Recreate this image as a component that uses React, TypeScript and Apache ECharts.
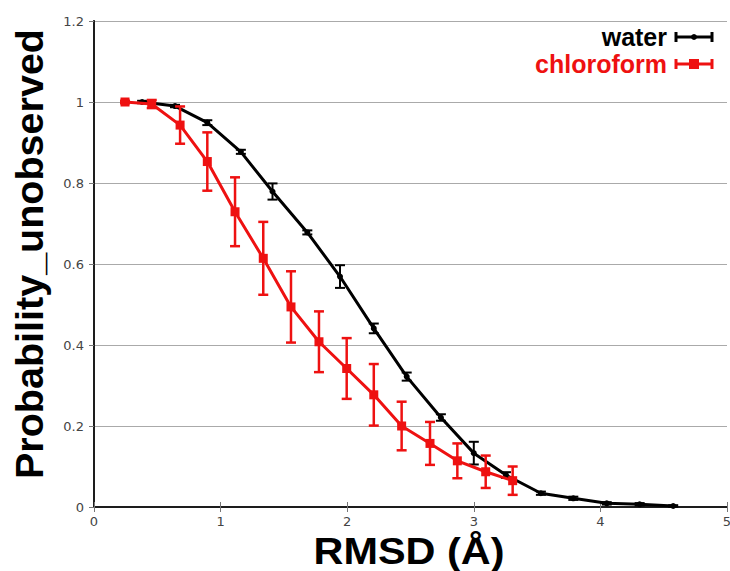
import React, { useEffect, useRef } from "react";
import * as echarts from "echarts";

const waterX = [0.38, 0.64, 0.895, 1.16, 1.41, 1.685, 1.943, 2.21, 2.47, 2.74, 3.0, 3.254, 3.53, 3.786, 4.05, 4.31, 4.575];
const waterY = [1.0, 0.99, 0.949, 0.877, 0.779, 0.678, 0.569, 0.441, 0.322, 0.221, 0.133, 0.079, 0.034, 0.0215, 0.009, 0.0067, 0.0025];
const waterErr = [0.003, 0.003, 0.006, 0.005, 0.02, 0.005, 0.028, 0.012, 0.01, 0.008, 0.028, 0.007, 0.004, 0.004, 0.003, 0.003, 0.002];

const chloroX = [0.245, 0.456, 0.68, 0.895, 1.114, 1.337, 1.556, 1.777, 1.996, 2.21, 2.43, 2.654, 2.87, 3.094, 3.307];
const chloroY = [1.0, 0.995, 0.943, 0.853, 0.729, 0.614, 0.494, 0.408, 0.342, 0.277, 0.2, 0.157, 0.114, 0.087, 0.065];
const chloroErr = [0.003, 0.01, 0.046, 0.072, 0.085, 0.09, 0.088, 0.075, 0.075, 0.076, 0.06, 0.053, 0.043, 0.04, 0.035];

const seriesNames = ["water", "chloroform"];
const xTitle = "RMSD (Å)";
const yTitle = "Probability_unobserved";

const BLACK = "#000000";
const RED = "#ee1111";
const TITLE_FONT = "'Liberation Sans', Arial, sans-serif";

function errRender(color: string, lw: number, cap: number) {
  return (params: any, api: any) => {
    const x = api.value(0);
    const lo = api.value(2);
    const hi = api.value(3);
    const p1 = api.coord([x, lo]);
    const p2 = api.coord([x, hi]);
    const st = { stroke: color, lineWidth: lw };
    return {
      type: "group",
      children: [
        { type: "line", shape: { x1: p1[0], y1: p1[1], x2: p2[0], y2: p2[1] }, style: st },
        { type: "line", shape: { x1: p1[0] - cap, y1: p1[1], x2: p1[0] + cap, y2: p1[1] }, style: st },
        { type: "line", shape: { x1: p2[0] - cap, y1: p2[1], x2: p2[0] + cap, y2: p2[1] }, style: st },
      ],
    };
  };
}

function legendItem(y: number, label: string, color: string, symbol: "diamond" | "rect") {
  const x1 = 676, x2 = 712, mid = 694;
  const st = { stroke: color, lineWidth: 3 };
  const children: any[] = [
    {
      type: "text",
      style: {
        text: label, x: 667, y, align: "right", verticalAlign: "middle",
        fill: color, font: `bold 25px ${TITLE_FONT}`,
      },
    },
    { type: "line", shape: { x1, y1: y, x2, y2: y }, style: st },
    { type: "line", shape: { x1, y1: y - 5, x2: x1, y2: y + 5 }, style: st },
    { type: "line", shape: { x1: x2, y1: y - 5, x2, y2: y + 5 }, style: st },
  ];
  if (symbol === "rect") {
    children.push({ type: "rect", shape: { x: mid - 5, y: y - 5, width: 10, height: 10 }, style: { fill: color } });
  } else {
    children.push({ type: "circle", shape: { cx: mid, cy: y, r: 3 }, style: { fill: color } });
  }
  return children;
}

export default function App() {
  const ref = useRef<HTMLDivElement>(null);
  useEffect(() => {
    if (!ref.current) return;
    const chart = echarts.init(ref.current, null, { renderer: "svg" });
    const tickFont = { color: "#444", fontFamily: "'DejaVu Sans', sans-serif", fontSize: 13 };
    const option: any = {
      animation: false,
      backgroundColor: "#ffffff",
      grid: { left: 94, right: 3, top: 21, bottom: 64, containLabel: false, outerBoundsMode: "none" },
      xAxis: [
        {
          type: "value", min: 0, max: 5, interval: 1, position: "bottom",
          axisLine: { lineStyle: { color: "#111", width: 2 } },
          axisTick: { inside: true, length: 5, lineStyle: { color: "#777" } },
          axisLabel: { ...tickFont, margin: 8 },
          splitLine: { show: false },
        },
        {
          type: "value", min: 0, max: 5, interval: 1, position: "top",
          axisLine: { lineStyle: { color: "#222", width: 1.5 } },
          axisTick: { inside: true, length: 5, lineStyle: { color: "#777" } },
          axisLabel: { show: false },
          splitLine: { show: false },
        },
      ],
      yAxis: [
        {
          type: "value", min: 0, max: 1.2, interval: 0.2, position: "left",
          axisLine: { show: true, lineStyle: { color: "#111", width: 2 } },
          axisTick: { show: false },
          axisLabel: { ...tickFont, margin: 10, formatter: (v: number) => String(+v.toFixed(1)) },
          splitLine: { show: true, lineStyle: { color: "#aaaaaa", width: 1 } },
        },
        {
          type: "value", min: 0, max: 1.2, interval: 0.2, position: "right",
          axisLine: { show: true, lineStyle: { color: "#222", width: 1.5 } },
          axisTick: { show: true, inside: true, length: 5, lineStyle: { color: "#777" } },
          axisLabel: { show: false },
          splitLine: { show: false },
        },
      ],
      series: [
        {
          name: seriesNames[0], type: "line",
          data: waterX.map((x, i) => [x, waterY[i]]),
          lineStyle: { color: BLACK, width: 3 },
          itemStyle: { color: BLACK },
          symbol: "circle", symbolSize: 6, z: 2,
        },
        {
          type: "custom",
          renderItem: errRender(BLACK, 2, 5),
          data: waterX.map((x, i) => [x, waterY[i], waterY[i] - waterErr[i], waterY[i] + waterErr[i]]),
          encode: { x: 0, y: [1, 2, 3] }, z: 3,
        },
        {
          name: seriesNames[1], type: "line",
          data: chloroX.map((x, i) => [x, chloroY[i]]),
          lineStyle: { color: RED, width: 3 },
          itemStyle: { color: RED },
          symbol: "rect", symbolSize: 9, z: 4,
        },
        {
          type: "custom",
          renderItem: errRender(RED, 2.5, 5),
          data: chloroX.map((x, i) => [x, chloroY[i], chloroY[i] - chloroErr[i], chloroY[i] + chloroErr[i]]),
          encode: { x: 0, y: [1, 2, 3] }, z: 5,
        },
      ],
      graphic: [
        ...legendItem(37, seriesNames[0], BLACK, "diamond"),
        ...legendItem(64, seriesNames[1], RED, "rect"),
        {
          type: "text",
          x: 409, y: 551, scaleX: 1.12,
          style: {
            text: xTitle, align: "center", verticalAlign: "middle",
            fill: "#000", font: `bold 37px ${TITLE_FONT}`,
          },
        },
        {
          type: "text",
          x: 29, y: 254, rotation: Math.PI / 2,
          style: {
            text: yTitle, align: "center", verticalAlign: "middle",
            fill: "#000", font: `bold 39.5px ${TITLE_FONT}`,
          },
        },
      ],
    };
    chart.setOption(option);
    return () => chart.dispose();
  }, []);
  return (
    <div
      ref={ref}
      style={{ position: "absolute", left: 0, top: 0, width: 730, height: 571 }}
    />
  );
}
